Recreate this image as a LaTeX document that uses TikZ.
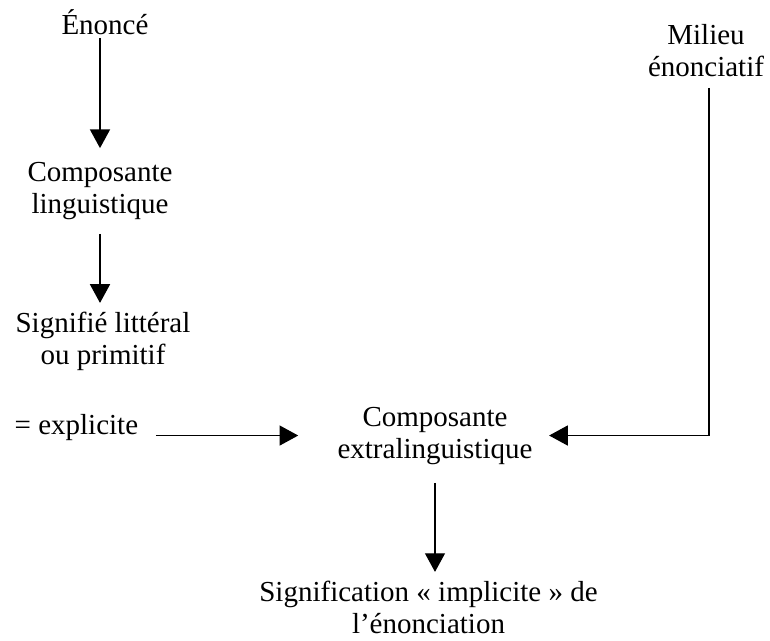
\documentclass[tikz,border=0pt]{standalone}
\usepackage{fontspec}
\setmainfont{Liberation Serif}
\usetikzlibrary{arrows.meta}

\tikzset{every picture/.style={line width=1pt}}
\tikzset{
  texte/.style={inner sep=0pt, align=center, font=\fontsize{21.75}{24}\selectfont},
  fleche/.style={-{Triangle[length=14pt,width=15pt]}}
}

\begin{document}
\begin{tikzpicture}[x=0.75pt,y=0.75pt,yscale=-1,xscale=1]
%set diagram left start at 0, and has height of 641
\useasboundingbox (0,0) rectangle (770,641);

% Text Node
\node (enonce) [texte, anchor=base] at (105,35) {Énoncé};
% Text Node
\node (compling) [texte, anchor=base] at (100,214) {Composante\\linguistique};
% Text Node
\node (signifie) [texte, anchor=base] at (103,364) {Signifié littéral\\ou primitif};
% Text Node
\node (explicit) [texte, anchor=base west] at (14,434) {= explicite};
% Text Node
\node (compext) [texte, anchor=base] at (435,458) {Composante\\extralinguistique};
% Text Node
\node (milieu) [texte, anchor=base] at (706,77) {Milieu\\énonciatif};
% Text Node
\node (signif) [texte, anchor=base] at (428.5,633) {Signification « implicite » de\\l’énonciation};

%Straight Lines
\draw [fleche, shorten <=1.5pt, shorten >=10.5pt] (enonce.south -| compling.north) -- (compling.north);
%Straight Lines
\draw [fleche, shorten <=9.75pt, shorten >=6pt] (compling.south) -- (signifie.north -| compling.south);
%Straight Lines
\draw [fleche, shorten <=12.75pt, shorten >=29pt] (explicit.east |- compext.west) -- (compext.west);
%Straight Lines
\draw [fleche, shorten <=7.5pt, shorten >=12pt] ([xshift=2.25pt]milieu.south) |- (compext.east);
%Straight Lines
\draw [fleche, shorten <=13.5pt, shorten >=6pt] (compext.south) -- (compext.south |- signif.north);

\end{tikzpicture}
\end{document}
